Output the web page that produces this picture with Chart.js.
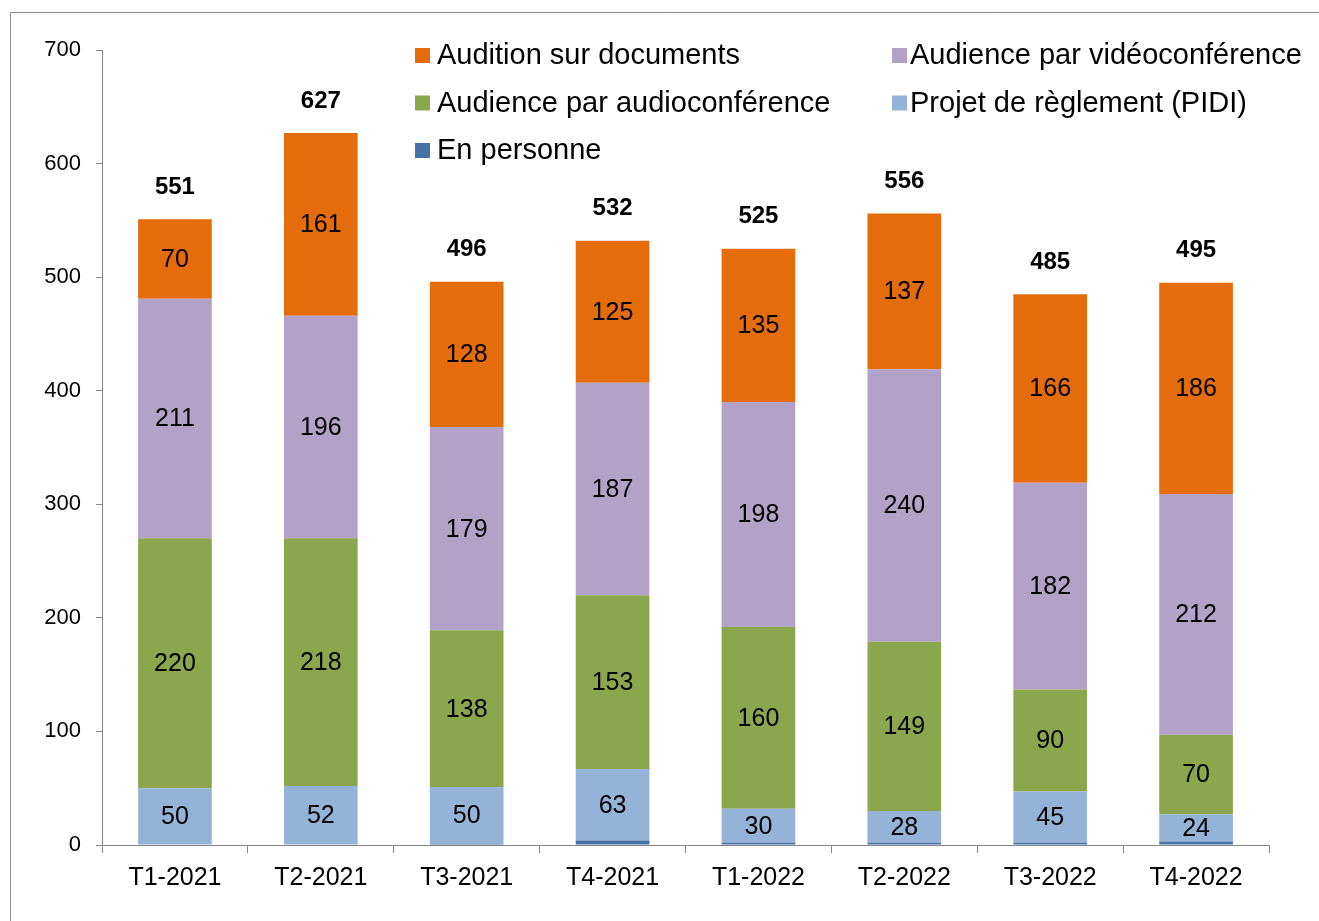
<!DOCTYPE html>
<html>
<head>
<meta charset="utf-8">
<script src="https://cdn.jsdelivr.net/npm/chart.js@4"></script>
<style>
  html, body { margin: 0; padding: 0; background: #fff; }
  #wrap { width: 1319px; height: 921px; position: relative; }
</style>
</head>
<body>
<div id="wrap"><canvas id="hearingsChart" width="1319" height="921"></canvas></div>
<script>
// categories
const quarters = ['T1-2021', 'T2-2021', 'T3-2021', 'T4-2021', 'T1-2022', 'T2-2022', 'T3-2022', 'T4-2022'];

// series, bottom of stack first
const enPersonne    = [0, 0, 1, 4, 2, 2, 2, 3];
const projetPidi    = [50, 52, 50, 63, 30, 28, 45, 24];
const audioConf     = [220, 218, 138, 153, 160, 149, 90, 70];
const videoConf     = [211, 196, 179, 187, 198, 240, 182, 212];
const surDocuments  = [70, 161, 128, 125, 135, 137, 166, 186];

// totals shown above the bars
const totals = [551, 627, 496, 532, 525, 556, 485, 495];

const yTicks = [0, 100, 200, 300, 400, 500, 600, 700];

const FONT = '"Liberation Sans", Arial, sans-serif';

// outer frame + legend + labels
const decorPlugin = {
    id: 'decor',
    beforeDraw(chart) {
        const ctx = chart.ctx;
        ctx.save();
        ctx.strokeStyle = '#8c8c8c';
        ctx.lineWidth = 1;
        ctx.beginPath();
        ctx.moveTo(10.5, 930);
        ctx.lineTo(10.5, 12.5);
        ctx.lineTo(1330, 12.5);
        ctx.stroke();
        ctx.restore();
    },
    afterDatasetsDraw(chart) {
        const ctx = chart.ctx;
        ctx.save();
        ctx.fillStyle = '#000';
        ctx.textAlign = 'center';
        ctx.textBaseline = 'middle';

        // segment values (skip En personne, index 0)
        ctx.font = '25px ' + FONT;
        chart.data.datasets.forEach((ds, i) => {
            if (i === 0) return;
            const meta = chart.getDatasetMeta(i);
            meta.data.forEach((bar, j) => {
                const cy = (bar.y + bar.base) / 2;
                ctx.fillText(String(ds.data[j]), bar.x, cy + 1);
            });
        });

        // totals
        ctx.font = 'bold 24px ' + FONT;
        const topMeta = chart.getDatasetMeta(chart.data.datasets.length - 1);
        topMeta.data.forEach((bar, j) => {
            ctx.fillText(String(totals[j]), bar.x, bar.y - 32);
        });

        // legend, reversed order, two columns
        const items = chart.data.datasets.slice().reverse();
        ctx.font = '29px ' + FONT;
        ctx.textAlign = 'left';
        items.forEach((ds, k) => {
            const col = k % 2;
            const row = Math.floor(k / 2);
            const x = col === 0 ? 415 : 892;
            const tx = col === 0 ? 437 : 910;
            const y = 55 + row * 47.5;
            ctx.fillStyle = ds.backgroundColor;
            ctx.fillRect(x, y - 7, 15, 15);
            ctx.fillStyle = '#000';
            ctx.fillText(ds.label, tx, y + 1);
        });
        ctx.restore();
    }
};

const ctx = document.getElementById('hearingsChart').getContext('2d');
const hearingsChart = new Chart(ctx, {
    type: 'bar',
    data: {
        labels: quarters,
        datasets: [
            { label: 'En personne', data: enPersonne, backgroundColor: '#4572A7' },
            { label: 'Projet de règlement (PIDI)', data: projetPidi, backgroundColor: '#95B3D7' },
            { label: 'Audience par audioconférence', data: audioConf, backgroundColor: '#8BA64D' },
            { label: 'Audience par vidéoconférence', data: videoConf, backgroundColor: '#B3A2C7' },
            { label: 'Audition sur documents', data: surDocuments, backgroundColor: '#E46C0A' }
        ]
    },
    options: {
        responsive: false,
        animation: false,
        events: [],
        layout: { padding: { left: 12, top: 50, right: 50, bottom: 0 } },
        datasets: { bar: { categoryPercentage: 1.0, barPercentage: 0.505 } },
        plugins: {
            legend: { display: false },
            tooltip: { enabled: false }
        },
        scales: {
            x: {
                stacked: true,
                offset: true,
                afterFit(scale) { scale.height = 76; },
                border: { color: '#868686', width: 1 },
                grid: { offset: true, drawOnChartArea: false, drawTicks: true, tickLength: 8, color: '#868686' },
                ticks: { color: '#000', font: { family: FONT, size: 25 }, padding: 10, maxRotation: 0 }
            },
            y: {
                stacked: true,
                min: 0,
                max: 700,
                afterFit(scale) { scale.width = 90; },
                afterBuildTicks(scale) { scale.ticks = yTicks.map(v => ({ value: v })); },
                border: { color: '#868686', width: 1 },
                grid: { drawOnChartArea: false, drawTicks: true, tickLength: 6, color: '#868686' },
                ticks: { color: '#000', font: { family: FONT, size: 22 }, padding: 15 }
            }
        }
    },
    plugins: [decorPlugin]
});
</script>
</body>
</html>
